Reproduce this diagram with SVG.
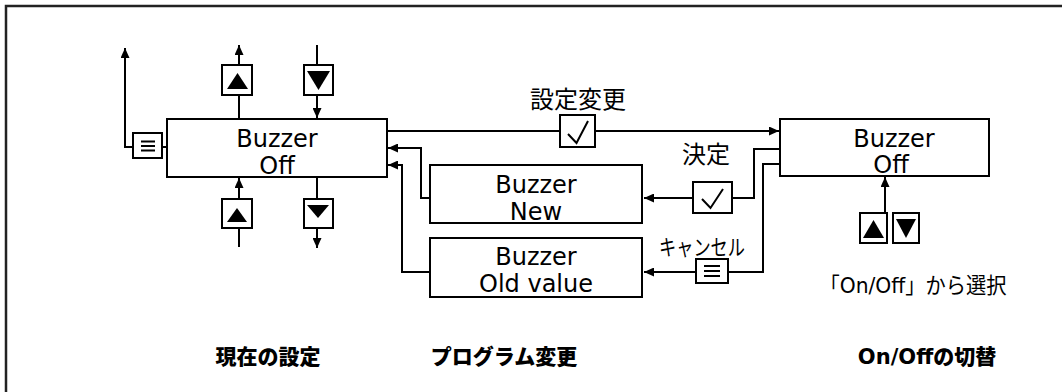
<svg xmlns="http://www.w3.org/2000/svg" width="1062" height="392" viewBox="0 0 1062 392">
<style>
.box{fill:#fff;stroke:#000;stroke-width:2}
.ln{fill:none;stroke:#000;stroke-width:2}
.ar{fill:none;stroke:#000;stroke-width:2;marker-end:url(#ah)}
.t{font-family:"DejaVu Sans","Noto Sans CJK JP",sans-serif;font-size:24px;fill:#000;text-anchor:middle}
.j{font-family:"DejaVu Sans","Noto Sans CJK JP",sans-serif;font-size:22px;fill:#000;text-anchor:middle}
.b{font-family:"DejaVu Sans","Noto Sans CJK JP",sans-serif;font-size:21px;font-weight:900;fill:#000;text-anchor:middle}
.tri{fill:#000}
</style>
<defs>
<marker id="ah" markerUnits="userSpaceOnUse" markerWidth="10" markerHeight="9" refX="10" refY="4.5" orient="auto">
<path d="M0,0 L10,4.5 L0,9 z" fill="#000"/>
</marker>
</defs>
<rect width="1062" height="392" fill="#fff"/>
<path d="M6,392 V6 H1062" fill="none" stroke="#222" stroke-width="2.5"/>

<g id="connectors">
<path class="ln" d="M162,147 H167"/>
<path class="ar" d="M133,147 H125 V48"/>
<path class="ln" d="M239,119 V95"/>
<path class="ar" d="M239,65 V45"/>
<path class="ln" d="M317,45 V65"/>
<path class="ar" d="M317,95 V118"/>
<path class="ln" d="M239,247 V228"/>
<path class="ar" d="M239,199 V178"/>
<path class="ln" d="M317,177 V199"/>
<path class="ar" d="M317,228 V248"/>
<path class="ln" d="M387,131 H560"/>
<path class="ar" d="M595,131 H779"/>
<path class="ln" d="M780,149 H754 V198 H732"/>
<path class="ar" d="M693,198 H644"/>
<path class="ar" d="M430,198 H421 V148 H388"/>
<path class="ln" d="M780,164 H763 V272 H728"/>
<path class="ar" d="M696,272 H644"/>
<path class="ar" d="M430,272 H402 V165 H388"/>
<path class="ar" d="M885,213 V177"/>
</g>

<g id="node-current">
<rect class="box" x="167" y="119" width="220" height="58"/>
<text class="t" x="277" y="147">Buzzer</text>
<text class="t" x="277" y="174">Off</text>
</g>

<g id="btn-menu-left">
<rect class="box" x="133" y="133" width="29" height="25"/>
<path class="ln" d="M141,141.5 H155 M141,146 H155 M141,150.5 H155" stroke-width="1.8"/>
</g>
<g id="btn-up-top">
<rect class="box" x="222" y="65" width="30" height="30"/>
<path class="tri" d="M237.5,73 L248,89 L227,89 z"/>
</g>
<g id="btn-down-top">
<rect class="box" x="304" y="65" width="29" height="30"/>
<path class="tri" d="M307,71 L330,71 L318.5,90 z"/>
</g>
<g id="btn-up-bottom">
<rect class="box" x="222" y="199" width="30" height="29"/>
<path class="tri" d="M237,208 L247,222 L227,222 z"/>
</g>
<g id="btn-down-bottom">
<rect class="box" x="304" y="199" width="29" height="29"/>
<path class="tri" d="M307,205 L329,205 L318,218 z"/>
</g>

<g id="label-change">
<text class="j" x="578" y="108" style="font-size:24px">設定変更</text>
<rect class="box" x="560" y="115" width="35" height="32"/>
<path class="ln" d="M568,134 L576.5,143 L588,121" stroke-width="1.6"/>
</g>

<g id="node-new">
<rect class="box" x="430" y="165" width="212" height="58"/>
<text class="t" x="536" y="193">Buzzer</text>
<text class="t" x="536" y="220">New</text>
</g>

<g id="node-old">
<rect class="box" x="430" y="238" width="212" height="59"/>
<text class="t" x="536" y="265">Buzzer</text>
<text class="t" x="536" y="292">Old value</text>
</g>

<g id="label-decide">
<text class="j" x="706" y="163" style="font-size:24px">決定</text>
<rect class="box" x="693" y="182" width="39" height="31"/>
<path class="ln" d="M702,199 L710.5,208 L723,189" stroke-width="1.6"/>
</g>

<g id="label-cancel">
<text class="j" x="702" y="255" textLength="86" lengthAdjust="spacingAndGlyphs">キャンセル</text>
<rect class="box" x="696" y="259" width="32" height="24"/>
<path class="ln" d="M704,266 H720 M704,271 H720 M704,276 H720" stroke-width="1.8"/>
</g>

<g id="node-onoff">
<rect class="box" x="780" y="119" width="209" height="57"/>
<text class="t" x="894" y="147">Buzzer</text>
<text class="t" x="891" y="173">Off</text>
</g>

<g id="btn-updown-right">
<rect class="box" x="860" y="213" width="27" height="30"/>
<path class="tri" d="M873.5,220 L884,238 L863,238 z"/>
<rect class="box" x="893" y="213" width="26" height="30"/>
<path class="tri" d="M896,219 L916,219 L906,238 z"/>
<text class="j" x="913" y="293" textLength="187" lengthAdjust="spacingAndGlyphs">「On/Off」から選択</text>
</g>

<g id="titles">
<text class="b" x="268" y="364">現在の設定</text>
<text class="b" x="504" y="364">プログラム変更</text>
<text class="b" x="927" y="364">On/Offの切替</text>
</g>
</svg>
